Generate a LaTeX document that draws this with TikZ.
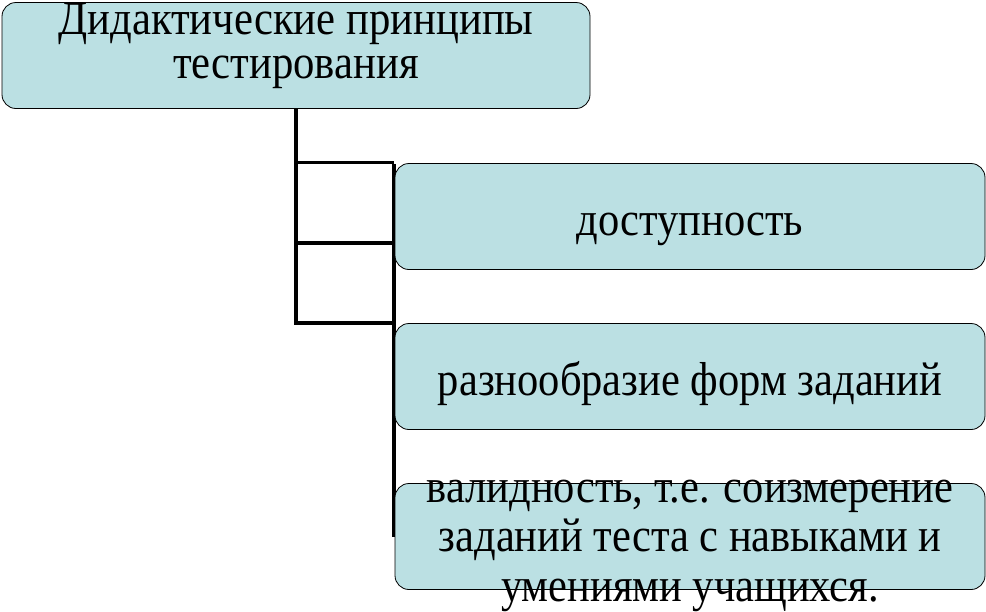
\documentclass[tikz,border=0pt]{standalone}
\usepackage{fontspec}
\usepackage{graphicx}
\setmainfont{Liberation Serif}
\usetikzlibrary{backgrounds}
\definecolor{boxfill}{RGB}{187,224,227}

% text lines, slightly stretched upright, first line is the baseline
\newcommand{\prtext}[1]{\scalebox{1}[1.12]{\begin{tabular}[t]{@{}c@{}}#1\end{tabular}}}

\tikzset{
  prbox/.style={draw, rectangle, rounded corners=14pt, fill=boxfill, line width=0.8pt,
    minimum width=590pt, minimum height=106pt, inner sep=0pt,
    font=\fontsize{42.5}{44.6}\selectfont},
  link/.style={line width=3.4pt, black}
}

\begin{document}
\begin{tikzpicture}[x=1pt,y=-1pt]
\useasboundingbox (0,0) rectangle (986,611);

\node[prbox, minimum width=588pt, font=\fontsize{42.7}{39.3}\selectfont, text height=0pt, text depth=42pt] (head) at (296,55.5) {\prtext{Дидактические принципы\\тестирования}};
\node[prbox, text height=38pt, text depth=0pt] (p1) at (690,216.5) {\prtext{доступность}};
\node[prbox, text height=37pt, text depth=0pt] (p2) at (690,376.5) {\prtext{разнообразие форм заданий}};
\node[prbox, text height=0pt, text depth=69pt] (p3) at (690,536.5) {\prtext{валидность, т.е. соизмерение\\заданий теста с навыками и\\умениями учащихся.}};

\coordinate (j1) at (296,162.5);
\coordinate (j2) at (296,243);
\coordinate (j3) at (296,323);
\coordinate (k1) at (394,162.5);
\coordinate (k2) at (394,243);
\coordinate (k3) at (394,323);
\coordinate (kend) at (394,537);

\begin{pgfonlayer}{background}
\draw [link] (head.south) -- (j3);
\draw [link] ([xshift=-1.7pt] j1) -- (k1);
\draw [link] ([xshift=-1.7pt] j2) -- (k2);
\draw [link] ([xshift=-1.7pt] j3) -- (k3);
\draw [link] ([yshift=-1.7pt] k1) -- (kend);
\end{pgfonlayer}
\end{tikzpicture}
\end{document}
